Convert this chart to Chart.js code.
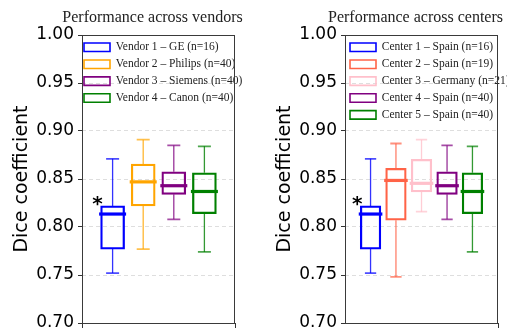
<!DOCTYPE html>
<html>
<head>
<meta charset="utf-8">
<script src="https://cdn.jsdelivr.net/npm/chart.js@4.4.0/dist/chart.umd.min.js"></script>
<style>
  html, body { margin: 0; padding: 0; background: #fff; overflow: hidden; width: 507px; height: 328px; }
  canvas { position: absolute; top: 0; }
  #vendorsChart { left: 0; }
  #centersChart { left: 263px; }
</style>
</head>
<body>
<canvas id="vendorsChart" width="305" height="380"></canvas>
<canvas id="centersChart" width="305" height="380"></canvas>
<script>
// shared y axis
const yTicks = [0.70, 0.75, 0.80, 0.85, 0.90, 0.95, 1.00];

// left panel: vendors
const vendorLabels = [
  "Vendor 1 \u2013 GE (n=16)",
  "Vendor 2 \u2013 Philips (n=40)",
  "Vendor 3 \u2013 Siemens (n=40)",
  "Vendor 4 \u2013 Canon (n=40)",
];
const vendorColors = ["#0000ff", "#ffa500", "#800080", "#008000"];
const vendorPositions = [0.7, 0.9, 1.1, 1.3];
const vendorLow = [0.752, 0.777, 0.808, 0.774];
const vendorQ1 = [0.777, 0.822, 0.834, 0.814];
const vendorMedian = [0.8135, 0.847, 0.843, 0.837];
const vendorQ3 = [0.822, 0.8655, 0.8575, 0.8565];
const vendorHigh = [0.871, 0.891, 0.885, 0.884];
const vendorMarks = ["*", "", "", ""];
const vendorTicks = [1.0];

// right panel: centers
const centerLabels = [
  "Center 1 \u2013 Spain (n=16)",
  "Center 2 \u2013 Spain (n=19)",
  "Center 3 \u2013 Germany (n=21)",
  "Center 4 \u2013 Spain (n=40)",
  "Center 5 \u2013 Spain (n=40)",
];
const centerColors = ["#0000ff", "#ff6347", "#ffc0cb", "#800080", "#008000"];
const centerPositions = [0.667, 0.833, 1.0, 1.167, 1.333];
const centerLow = [0.752, 0.748, 0.816, 0.808, 0.774];
const centerQ1 = [0.777, 0.807, 0.8365, 0.834, 0.814];
const centerMedian = [0.8135, 0.8485, 0.8455, 0.843, 0.837];
const centerQ3 = [0.822, 0.861, 0.8705, 0.8575, 0.8565];
const centerHigh = [0.871, 0.887, 0.891, 0.885, 0.884];
const centerMarks = ["*", "", "", "", ""];
const centerTicks = [0.915];

Chart.defaults.font.family = "DejaVu Sans";

function withAlpha(hex, a) {
  const n = parseInt(hex.slice(1), 16);
  return `rgba(${(n >> 16) & 255},${(n >> 8) & 255},${n & 255},${a})`;
}

// whiskers, caps, medians and the significance mark on top of the floating bars
const boxPlotPlugin = {
  id: "boxPlot",
  afterDatasetsDraw(chart) {
    const ctx = chart.ctx;
    const y = chart.scales.y;
    ctx.save();
    chart.data.datasets.forEach((ds, i) => {
      const bar = chart.getDatasetMeta(i).data[0];
      if (!bar) return;
      const x = bar.x;
      const w = bar.width;
      const lo = y.getPixelForValue(ds.whisker[0]);
      const hi = y.getPixelForValue(ds.whisker[1]);
      const q1 = y.getPixelForValue(ds.data[0].y[0]);
      const q3 = y.getPixelForValue(ds.data[0].y[1]);
      const med = y.getPixelForValue(ds.median);

      ctx.strokeStyle = withAlpha(ds.borderColor, 0.8);
      ctx.lineWidth = 1.3;
      ctx.beginPath();
      ctx.moveTo(x, q3);
      ctx.lineTo(x, hi);
      ctx.moveTo(x, q1);
      ctx.lineTo(x, lo);
      ctx.stroke();

      ctx.strokeStyle = withAlpha(ds.borderColor, 0.7);
      ctx.lineWidth = 1.8;
      ctx.beginPath();
      ctx.moveTo(x - w / 4 - 0.5, hi);
      ctx.lineTo(x + w / 4 + 0.5, hi);
      ctx.moveTo(x - w / 4 - 0.5, lo);
      ctx.lineTo(x + w / 4 + 0.5, lo);
      ctx.stroke();

      ctx.strokeStyle = ds.borderColor;
      ctx.lineWidth = 3.2;
      ctx.beginPath();
      ctx.moveTo(x - w / 2 - 1.5, med);
      ctx.lineTo(x + w / 2 + 1.5, med);
      ctx.stroke();

      if (ds.mark) {
        ctx.fillStyle = "#000";
        ctx.font = "bold 20px 'DejaVu Sans'";
        ctx.textAlign = "center";
        ctx.textBaseline = "alphabetic";
        ctx.fillText(ds.mark, x - w / 2 - 3, q3 - 6 + 10.5);
      }
    });
    ctx.restore();
  },
};

// axes frame + legend placement inside the plot
const framePlugin = {
  id: "frame",
  afterLayout(chart, args, opts) {
    const a = chart.chartArea;
    const lg = chart.legend;
    if (lg) {
      lg.left = a.left + opts.legendDx;
      lg.top = a.top + opts.legendDy;
      lg.right = lg.left + 400;
      lg.bottom = lg.top + 200;
      lg.width = 400;
      lg.height = 200;
    }
  },
  afterDraw(chart) {
    const a = chart.chartArea;
    const ctx = chart.ctx;
    ctx.save();
    ctx.strokeStyle = "#3a3a3a";
    ctx.lineWidth = 1;
    ctx.strokeRect(Math.round(a.left) + 0.5, Math.round(a.top) + 0.5,
      Math.round(a.right - a.left) - 1, Math.round(a.bottom - a.top));
    ctx.restore();
  },
};

function crearPanel(canvasId, title, labels, colors, positions, low, q1, median, q3, high, marks, xTicks, barWidth, legendDx) {
  const ctx = document.getElementById(canvasId).getContext("2d");
  const datasets = labels.map((label, i) => ({
    label: label,
    data: [{ x: positions[i], y: [q1[i], q3[i]] }],
    whisker: [low[i], high[i]],
    median: median[i],
    mark: marks[i],
    backgroundColor: "rgba(0,0,0,0)",
    borderColor: colors[i],
    borderWidth: 1.6,
    borderSkipped: false,
    barThickness: barWidth,
    grouped: false,
  }));

  return new Chart(ctx, {
    type: "bar",
    data: { datasets: datasets },
    plugins: [boxPlotPlugin, framePlugin],
    options: {
      responsive: false,
      animation: false,
      layout: { padding: 0 },
      plugins: {
        frame: { legendDx: legendDx, legendDy: 1.15 },
        title: {
          display: true,
          text: title,
          color: "#222",
          font: { family: "Liberation Serif", size: 16, weight: "normal", lineHeight: 1.2 },
          padding: { top: 8.2, bottom: 7.6 },
        },
        legend: {
          position: "chartArea",
          align: "start",
          labels: {
            boxWidth: 26,
            boxHeight: 8.5,
            padding: 5.4,
            color: "#222",
            font: { family: "Liberation Serif", size: 11.5 },
          },
        },
        tooltip: { enabled: false },
      },
      scales: {
        x: {
          type: "linear",
          min: 0.5,
          max: 1.5,
          offset: false,
          afterBuildTicks: (scale) => {
            scale.ticks = xTicks.map((v) => ({ value: v }));
          },
          afterFit: (scale) => {
            scale.height = 57;
          },
          ticks: { display: false },
          grid: { drawOnChartArea: false, drawTicks: true, tickLength: 5, tickColor: "#333", tickWidth: 1 },
          border: { display: false },
        },
        y: {
          min: 0.7,
          max: 1.0,
          afterBuildTicks: (scale) => {
            scale.ticks = yTicks.map((v) => ({ value: v }));
          },
          afterFit: (scale) => {
            scale.width = 82;
          },
          ticks: {
            color: "#000",
            padding: 4,
            font: { size: 17 },
            callback: (value) => value.toFixed(2),
          },
          grid: {
            color: (c) => (c.tick && (Math.abs(c.tick.value - 0.7) < 1e-6 || Math.abs(c.tick.value - 1.0) < 1e-6)
              ? "rgba(0,0,0,0)" : "#d6d6d6"),
            lineWidth: 0.8,
            tickLength: 4,
            tickColor: "#333",
            tickWidth: 1,
          },
          border: { display: false, dash: [4, 3] },
          title: {
            display: true,
            text: "Dice coefficient",
            color: "#000",
            font: { size: 19, lineHeight: 1.2 },
            padding: { top: 10.3, bottom: 0 },
          },
        },
        // empty spacer on the right so the title centres like the original figure
        spacer: {
          type: "linear",
          position: "right",
          ticks: { display: false },
          grid: { display: false },
          border: { display: false },
          afterFit: (scale) => {
            scale.width = 70;
          },
        },
      },
    },
  });
}

document.addEventListener("DOMContentLoaded", function () {
  crearPanel("vendorsChart", "Performance across vendors", vendorLabels, vendorColors, vendorPositions,
    vendorLow, vendorQ1, vendorMedian, vendorQ3, vendorHigh, vendorMarks, vendorTicks, 24, -3.4);
  crearPanel("centersChart", "Performance across centers", centerLabels, centerColors, centerPositions,
    centerLow, centerQ1, centerMedian, centerQ3, centerHigh, centerMarks, centerTicks, 20.6, -0.4);
});
</script>
</body>
</html>
